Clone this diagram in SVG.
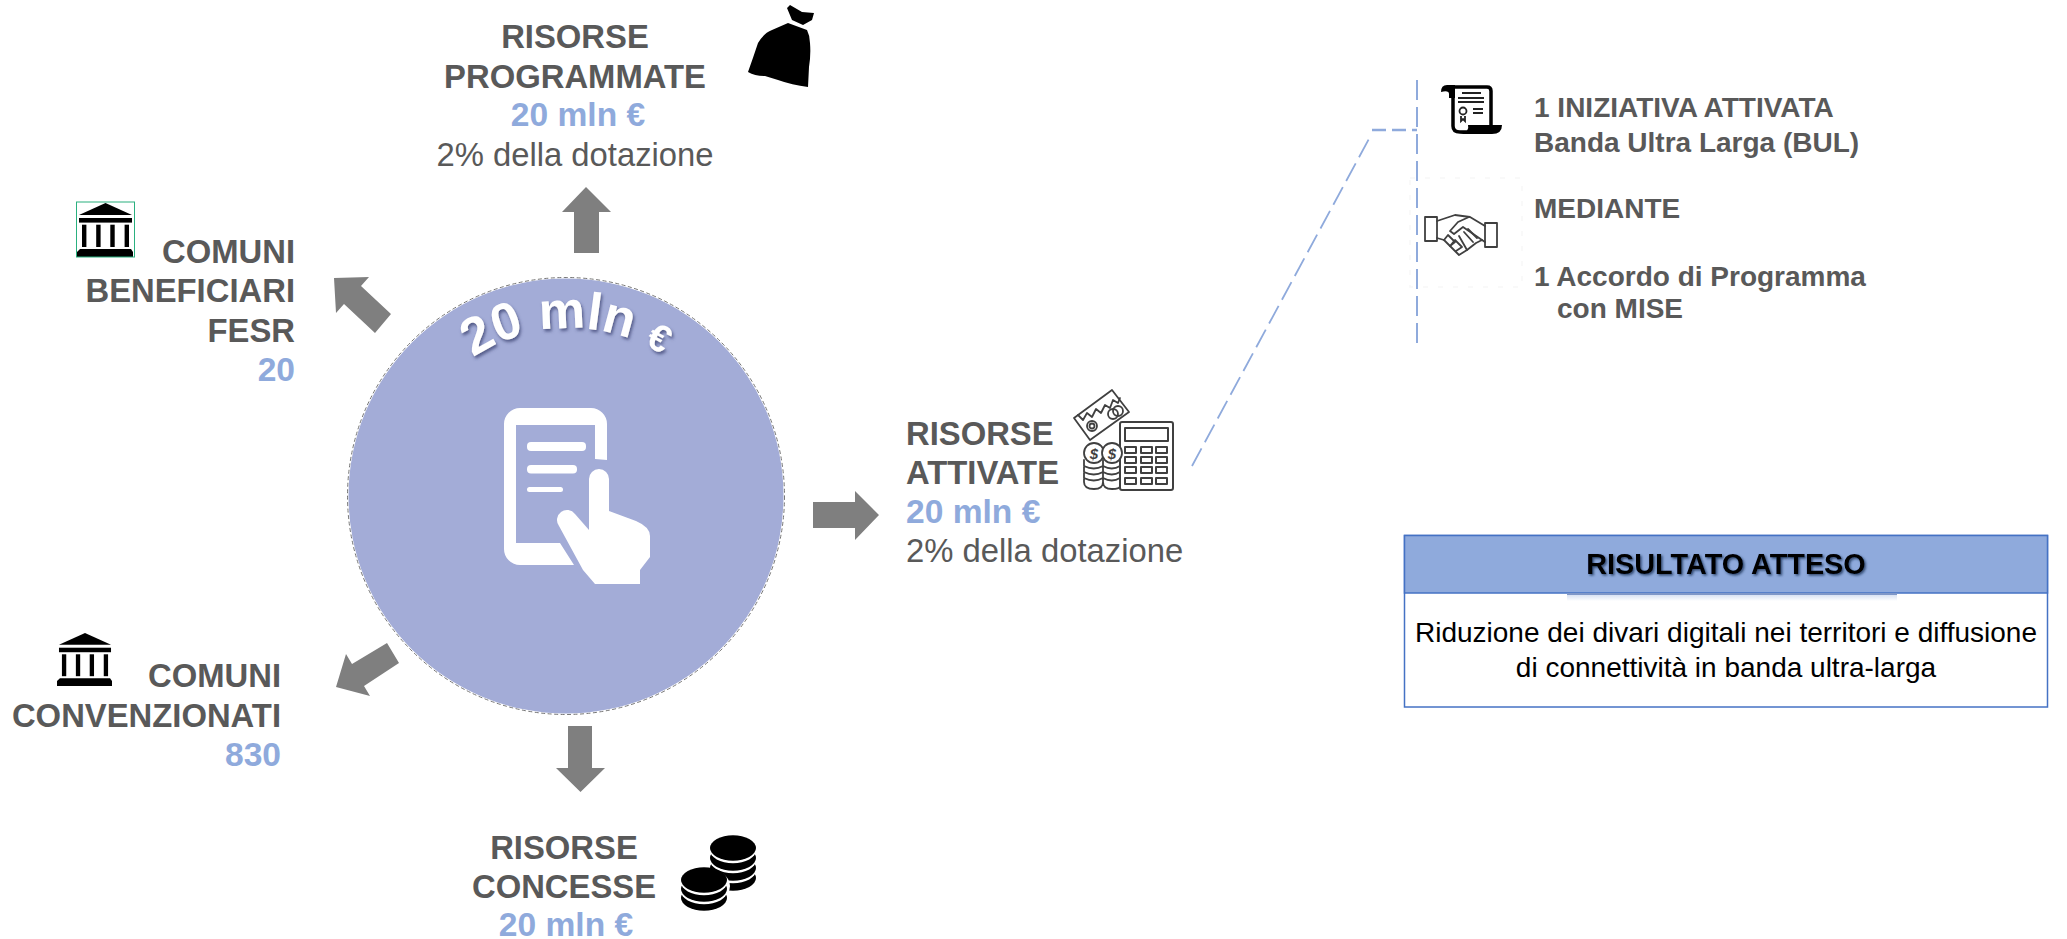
<svg xmlns="http://www.w3.org/2000/svg" xmlns:xlink="http://www.w3.org/1999/xlink" width="2067" height="939" viewBox="0 0 2067 939">
<style>
text{font-family:"Liberation Sans",Arial,sans-serif}
.h{font-size:32.8px;font-weight:700;fill:#595959}
.b{font-size:33.6px;font-weight:700;fill:#8faadc}
.r{font-size:32.8px;fill:#595959}
.t{font-size:28px;font-weight:700;fill:#595959}
.m{text-anchor:middle}
.e{text-anchor:end}
.arrow{fill:#7f7f7f}
.dash{fill:none;stroke:#8faadc;stroke-width:2;stroke-dasharray:20 7}
.ln{fill:none;stroke:#404040;stroke-width:1.8;stroke-linejoin:round;stroke-linecap:round}
</style>
<defs>
<filter id="sh" x="-20%" y="-30%" width="140%" height="170%"><feDropShadow dx="1.5" dy="2.5" stdDeviation="1.5" flood-color="#3a4370" flood-opacity=".75"/></filter>
<filter id="sh2" x="-10%" y="-30%" width="120%" height="170%"><feDropShadow dx="1.5" dy="1.5" stdDeviation="1.2" flood-color="#1f2d55" flood-opacity=".8"/></filter>
<linearGradient id="lip" x1="0" y1="0" x2="0" y2="1"><stop offset="0" stop-color="#8faadc" stop-opacity=".35"/><stop offset="1" stop-color="#8faadc" stop-opacity="0"/></linearGradient>
<symbol id="bank" viewBox="0 0 59 55">
<path d="M29.500 1 L56 13 H3 Z" fill="#000"/>
<rect x="3" y="16" width="53" height="4.600" fill="#000"/>
<g fill="#000"><rect x="6" y="22.700" width="4.400" height="22.300"/><rect x="20.200" y="22.700" width="4.400" height="22.300"/><rect x="34.300" y="22.700" width="4.400" height="22.300"/><rect x="48.600" y="22.700" width="4.400" height="22.300"/></g>
<path d="M4 47 H55 L57 50 V55 H1 V50 Z" fill="#000"/>
</symbol>
</defs>
<rect width="2067" height="939" fill="#fff"/>

<g id="connectors">
<polygon class="arrow" points="586,187 611,212 599,212 599,253 574,253 574,212 562,212"/>
<polygon class="arrow" points="334,278 369,277 361,286 391,314 375,333 344,304 336,313"/>
<polygon class="arrow" points="336,687 346,654 352,664 387,643 399,663 364,686 370,696"/>
<polygon class="arrow" points="568,726 592,726 592,768 605,768 580.500,792 556,768 568,768"/>
<polygon class="arrow" points="813,502 855,502 855,491 879,515 855,540 855,528 813,528"/>
<path class="dash" style="stroke-width:1.8" d="M1192 466 L1370 137"/>
<path class="dash" style="stroke-width:2.500;stroke-dasharray:14 6" d="M1372 130 H1417"/>
<path class="dash" d="M1417 80 V346"/>
</g>

<g id="node-centro">
<circle cx="566" cy="496" r="217.500" fill="#a3acd7"/>
<circle cx="566" cy="496" r="218.500" fill="none" stroke="#777" stroke-width="1" stroke-dasharray="4 2.500"/>
<path fill="#fff" d="M520 408 H591 A16 16 0 0 1 607 424 V460 L595 459 V425 H516 V543 H560 L574 565 H520 A16 16 0 0 1 504 549 V424 A16 16 0 0 1 520 408 Z"/>
<g fill="#fff">
<rect x="527" y="442" width="59" height="9" rx="4"/>
<rect x="527" y="465" width="50" height="8.500" rx="4"/>
<rect x="527" y="487" width="36" height="5" rx="2.500"/>
</g>
<path fill="#fff" d="M589 479 A10 10 0 0 1 609 479 V511 L636 521 Q650 527 650 536 V557 L640 570 V584 H595 L583 570 L559 526 A9 9 0 0 1 575 514 L589 530 Z"/>
<path id="arc" fill="none" d="M396 502 A170 170 0 0 1 744 502"/>
<text filter="url(#sh)" font-size="52" font-weight="700" fill="#fff"><textPath href="#arc" xlink:href="#arc" startOffset="49.500%" text-anchor="middle">20 mln <tspan font-size="38">€</tspan></textPath></text>
</g>

<g id="node-programmate">
<text class="h m" x="575" y="48">RISORSE</text>
<text class="h m" x="575" y="87.500">PROGRAMMATE</text>
<text class="b m" x="578" y="126">20 mln €</text>
<text class="r m" x="575" y="165.500">2% della dotazione</text>
<path fill="#000" d="M787 8 L790 5 L802 12 L814 13 L812 20 L803 25 L792 20 Z"/>
<path fill="#000" d="M788 23 L807 30 Q810 36 810 43 Q811 55 809 67 L808 87 Q792 85 778 80 L765 76 Q755 76 748 72 Q753 58 758 43 Q764 33 772 30 Z"/>
</g>

<g id="node-beneficiari">
<text class="h e" x="295" y="263">COMUNI</text>
<text class="h e" x="295" y="302">BENEFICIARI</text>
<text class="h e" x="295" y="342">FESR</text>
<text class="b e" x="295" y="381">20</text>
<use href="#bank" xlink:href="#bank" x="76" y="202" width="59" height="55"/>
<rect x="76.500" y="202" width="58" height="55" fill="none" stroke="#2ab07f" stroke-width="1"/>
</g>

<g id="node-convenzionati">
<text class="h e" x="281" y="687">COMUNI</text>
<text class="h e" x="281" y="727">CONVENZIONATI</text>
<text class="b e" x="281" y="766">830</text>
<use href="#bank" xlink:href="#bank" x="56" y="632" width="58" height="54"/>
</g>

<g id="node-concesse">
<text class="h m" x="564" y="859">RISORSE</text>
<text class="h m" x="564" y="898">CONCESSE</text>
<text class="b m" x="566" y="936">20 mln €</text>
<g fill="#000">
<ellipse cx="733" cy="878" rx="23" ry="12.700"/><ellipse cx="733" cy="870.500" rx="23" ry="12.700" fill="#fff"/>
<ellipse cx="733" cy="868" rx="23" ry="12.700"/><ellipse cx="733" cy="860.500" rx="23" ry="12.700" fill="#fff"/>
<ellipse cx="733" cy="858" rx="23" ry="12.700"/><ellipse cx="733" cy="850.500" rx="23" ry="12.700" fill="#fff"/>
<ellipse cx="733" cy="848" rx="23" ry="12.700"/>
<ellipse cx="704" cy="886" rx="26" ry="18" fill="#fff"/>
<ellipse cx="704" cy="898" rx="23" ry="12.700"/><ellipse cx="704" cy="891.500" rx="23" ry="12.700" fill="#fff"/>
<ellipse cx="704" cy="889" rx="23" ry="12.700"/><ellipse cx="704" cy="882.500" rx="23" ry="12.700" fill="#fff"/>
<ellipse cx="704" cy="880" rx="23" ry="12.700"/>
</g>
</g>

<g id="node-attivate">
<text class="h" x="906" y="445">RISORSE</text>
<text class="h" x="906" y="484">ATTIVATE</text>
<text class="b" x="906" y="523">20 mln €</text>
<text class="r" x="906" y="562">2% della dotazione</text>
<g class="ln">
<path d="M1112 390 L1129 412 L1090 440 L1074 418 Z"/>
<path d="M1078 415 L1083 420 L1087 413 L1092 417 L1096 409 L1101 413 L1105 405 L1110 408 L1113 400 L1118 403 L1120 398"/>
<circle cx="1092" cy="426" r="5"/><circle cx="1092" cy="426" r="2.500"/>
<circle cx="1113" cy="414" r="5"/><circle cx="1118" cy="411" r="5"/>
<rect x="1120" y="422" width="53" height="68" rx="2" stroke-width="2"/>
<rect x="1125" y="428" width="43" height="13" stroke-width="2"/>
<g stroke-width="2"><rect x="1125" y="447" width="11" height="6"/><rect x="1141" y="447" width="11" height="6"/><rect x="1156" y="447" width="11" height="6"/>
<rect x="1125" y="457" width="11" height="6"/><rect x="1141" y="457" width="11" height="6"/><rect x="1156" y="457" width="11" height="6"/>
<rect x="1125" y="467" width="11" height="6"/><rect x="1141" y="467" width="11" height="6"/><rect x="1156" y="467" width="11" height="6"/>
<rect x="1125" y="478" width="11" height="6"/><rect x="1141" y="478" width="11" height="6"/><rect x="1156" y="478" width="11" height="6"/></g>
<circle cx="1094" cy="453" r="10" fill="#fff"/><circle cx="1112" cy="453" r="10" fill="#fff"/>
<path d="M1084 460 V482 Q1084 489 1094 489 Q1103 489 1103 482 V460 M1084 466 Q1094 471 1103 466 M1084 472 Q1094 477 1103 472 M1084 478 Q1094 483 1103 478 M1103 460 V482 Q1103 489 1112 489 Q1120 489 1120 486 M1103 466 Q1112 471 1120 466 M1103 472 Q1112 477 1120 472 M1103 478 Q1112 483 1120 478"/>
</g>
<text x="1094" y="459" font-size="15" font-weight="700" fill="#404040" text-anchor="middle" font-style="italic">$</text>
<text x="1112" y="459" font-size="15" font-weight="700" fill="#404040" text-anchor="middle" font-style="italic">$</text>
</g>

<g id="node-iniziativa">
<text class="t" x="1534" y="117">1 INIZIATIVA ATTIVATA</text>
<text class="t" x="1534" y="152">Banda Ultra Larga (BUL)</text>
<path fill="#fff" stroke="#000" stroke-width="3.500" d="M1447 87 H1487 Q1491 87 1491 91 V126 M1447 87 Q1453 89 1453 96 V126 Q1453 132 1460 132 H1490"/>
<path fill="#000" d="M1447 85 H1455 V98 H1449 V94 Q1449 90 1441 92 Q1441 85 1447 85 Z M1468 125 H1502 Q1502 134 1492 134 H1460 Q1470 132 1468 125 Z"/>
<g stroke="#222" stroke-width="1.800" fill="none">
<path d="M1462 93 H1481 M1458 98 H1484 M1458 102 H1484 M1473 109 H1483 M1473 113 H1483"/>
<circle cx="1463" cy="111" r="3.500"/>
<path d="M1461 116 V121 L1463 119 L1465 121 V116"/>
</g>
</g>

<g id="node-mediante">
<path d="M1410 178 H1522 V287 H1410 Z" fill="none" stroke="#f7f7f7" stroke-width="1.500" stroke-dasharray="5 10"/>
<text class="t" x="1534" y="218">MEDIANTE</text>
<text class="t" x="1534" y="286">1 Accordo di Programma</text>
<text class="t" x="1557" y="318">con MISE</text>
<g class="ln">
<rect x="1425" y="217" width="12" height="24"/>
<rect x="1485" y="223" width="12" height="24"/>
<path d="M1437 221 L1455 215 L1470 217 L1485 226"/>
<path d="M1469 217 L1458 222 L1450 231 L1454 234 L1463 227 L1482 240"/>
<path d="M1437 238 L1444 240 L1459 255 L1467 250 L1476 243 L1482 240 L1485 242"/>
<path d="M1444 240 L1448 235 L1455 242 L1450 246 M1450 246 L1455 240 L1462 247 L1456 251 M1468 229 L1477 238 M1464 232 L1473 242 M1459 236 L1467 250"/>
</g>
</g>

<g id="node-risultato">
<rect x="1404.500" y="535.500" width="643" height="171.500" fill="#fff" stroke="#4472c4" stroke-width="1.500"/>
<rect x="1404.500" y="535.500" width="643" height="57.500" fill="#8faadc" stroke="#4472c4" stroke-width="1.500"/>
<rect x="1567" y="593" width="330" height="2" fill="#7f97c8"/>
<rect x="1567" y="595" width="330" height="6" fill="url(#lip)"/>
<text class="m" x="1726" y="574" font-size="28.800" font-weight="700" fill="#000" filter="url(#sh2)">RISULTATO ATTESO</text>
<text class="m" x="1726" y="642" font-size="28" fill="#000">Riduzione dei divari digitali nei territori e diffusione</text>
<text class="m" x="1726" y="677" font-size="28" fill="#000">di connettività in banda ultra-larga</text>
</g>
</svg>
